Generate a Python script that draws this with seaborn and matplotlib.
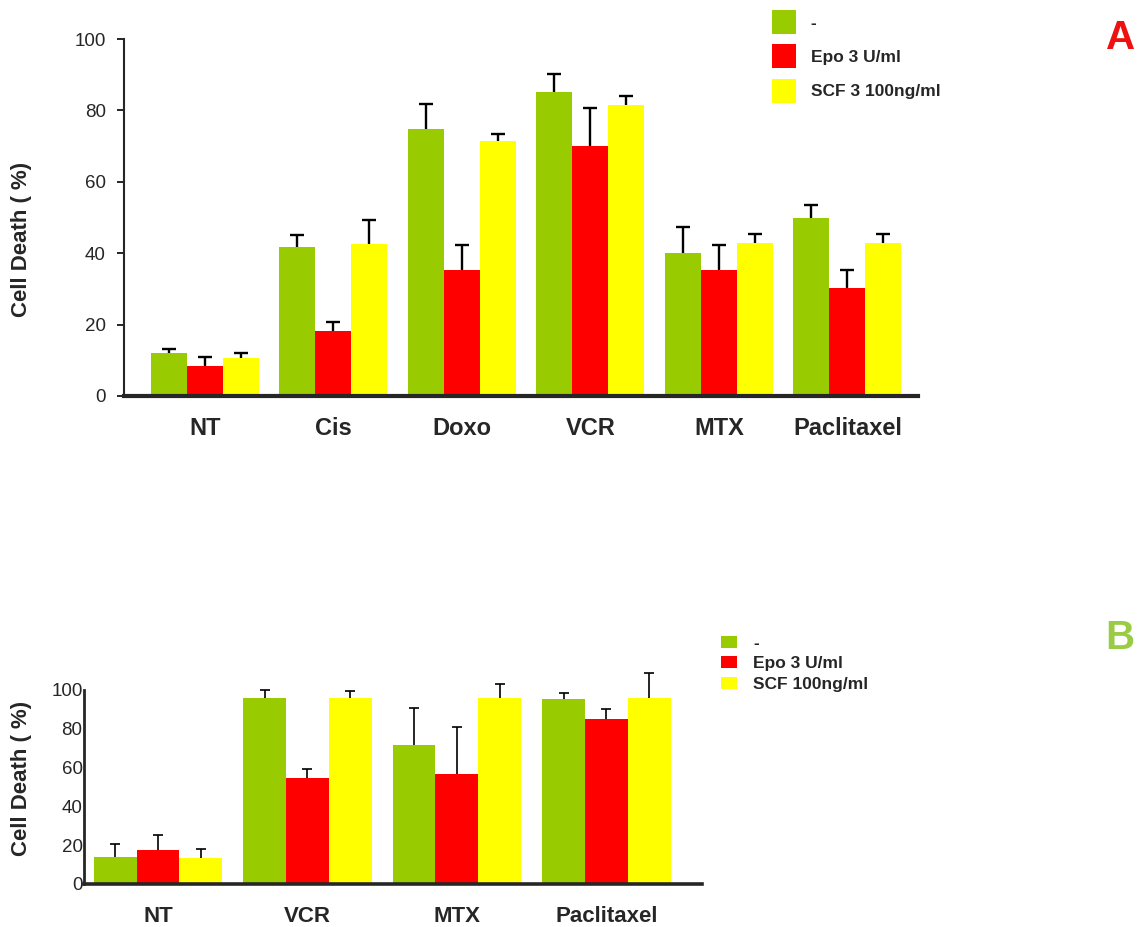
import numpy as np
import pandas as pd
import matplotlib
matplotlib.use("Agg")
import matplotlib.pyplot as plt
import seaborn as sns
from matplotlib.patches import Patch

# ---------------- data ----------------
drugs_a = ["NT", "Cis", "Doxo", "VCR", "MTX", "Paclitaxel"]
groups_a = ["-", "Epo 3 U/ml", "SCF 3 100ng/ml"]
a_ctrl = [12.0, 41.8, 74.8, 85.1, 40.0, 49.9]
a_epo = [8.4, 18.2, 35.3, 69.9, 35.3, 30.3]
a_scf = [10.6, 42.6, 71.4, 81.5, 42.8, 42.9]
a_ctrl_err = [1.2, 3.3, 7.0, 5.1, 7.3, 3.6]
a_epo_err = [2.6, 2.6, 7.0, 10.8, 7.0, 5.0]
a_scf_err = [1.4, 6.6, 2.0, 2.5, 2.6, 2.5]

drugs_b = ["NT", "VCR", "MTX", "Paclitaxel"]
groups_b = ["-", "Epo 3 U/ml", "SCF 100ng/ml"]
b_ctrl = [13.8, 95.7, 71.6, 95.2]
b_epo = [17.5, 54.5, 56.5, 84.9]
b_scf = [13.6, 95.7, 95.7, 95.7]
b_ctrl_err = [6.7, 4.1, 19.0, 3.4]
b_epo_err = [7.6, 4.8, 24.6, 5.1]
b_scf_err = [4.4, 3.6, 7.2, 12.9]

yticks = [0, 20, 40, 60, 80, 100]
colors = ["#99CC00", "#FF0000", "#FFFF00"]

# ---------------- style ----------------
sns.set_style("white")
plt.rcParams["font.family"] = ["Liberation Sans", "DejaVu Sans"]

W, H = 1141, 927
fig = plt.figure(figsize=(W / 100, H / 100), dpi=100)


def px_axes(left, right, top, bottom):
    return fig.add_axes([left / W, 1 - bottom / H, (right - left) / W, (bottom - top) / H])


def draw_panel(ax, drugs, groups, series, errs, width, elw, cap):
    rows = []
    for g, vals in zip(groups, series):
        for d, v in zip(drugs, vals):
            rows.append({"drug": d, "group": g, "value": v})
    df = pd.DataFrame(rows)
    sns.barplot(data=df, x="drug", y="value", hue="group", order=drugs,
                hue_order=groups, palette=colors, width=width, saturation=1,
                errorbar=None, legend=False, linewidth=0, gap=0, ax=ax)
    bars = sorted(ax.patches, key=lambda p: p.get_x())
    n = len(drugs)
    ng = len(groups)
    for j, (vals, err) in enumerate(zip(series, errs)):
        xs = [bars[i * ng + j].get_x() + bars[i * ng + j].get_width() / 2 for i in range(n)]
        eb = ax.errorbar(xs, vals, yerr=[np.zeros(n), err], fmt="none",
                         ecolor="black", elinewidth=elw, capsize=cap,
                         capthick=elw, clip_on=False, zorder=3)
        eb[1][0].set_visible(False)
        for c in eb[1]:
            c.set_clip_on(False)
        for c in eb[2]:
            c.set_clip_on(False)


# ---------------- panel A ----------------
axA = px_axes(124, 918, 39, 396)
draw_panel(axA, drugs_a, groups_a, [a_ctrl, a_epo, a_scf],
           [a_ctrl_err, a_epo_err, a_scf_err], 0.84, 1.7, 5)
axA.set_xlim(-0.63, 5.55)
axA.set_ylim(0, 100)
axA.set_yticks(yticks)
axA.set_xlabel("")
axA.set_ylabel("Cell Death ( %)", fontsize=16, fontweight="bold")
axA.yaxis.set_label_coords(22 / W, 1 - 239 / H, transform=fig.transFigure)
axA.yaxis.label.set_verticalalignment("center")
sns.despine(ax=axA)
axA.spines["left"].set_linewidth(1.5)
axA.spines["bottom"].set_linewidth(3)
axA.tick_params(axis="y", left=True, length=5, width=1.2, direction="out",
                labelsize=13.5, pad=8, color="black")
axA.tick_params(axis="x", length=0, labelsize=17, pad=15)
for t in axA.get_xticklabels():
    t.set_fontweight("bold")

handles_a = [Patch(facecolor=c, edgecolor="none") for c in colors]
fig.legend(handles_a, groups_a, loc="upper left", bbox_to_anchor=(772 / W, 1 - 10 / H),
           frameon=False, borderpad=0, borderaxespad=0,
           prop={"weight": "bold", "size": 12.5}, handlelength=1.38,
           handleheight=1.75, labelspacing=0.6, handletextpad=0.85)

fig.text(1121 / W, 1 - 38 / H, "A", color="#EE1111", fontsize=29,
         fontweight="bold", ha="center", va="center")

# ---------------- panel B ----------------
axB = px_axes(84, 702, 690, 884)
draw_panel(axB, drugs_b, groups_b, [b_ctrl, b_epo, b_scf],
           [b_ctrl_err, b_epo_err, b_scf_err], 0.86, 1.2, 3.6)
axB.set_xlim(-0.495, 3.64)
axB.set_ylim(0, 100)
axB.set_yticks(yticks)
axB.set_xlabel("")
axB.set_ylabel("Cell Death ( %)", fontsize=16, fontweight="bold")
axB.yaxis.set_label_coords(22 / W, 1 - 778 / H, transform=fig.transFigure)
axB.yaxis.label.set_verticalalignment("center")
sns.despine(ax=axB)
axB.spines["left"].set_linewidth(2)
axB.spines["bottom"].set_linewidth(2.6)
axB.tick_params(axis="y", length=0, labelsize=13.5, pad=1)
axB.tick_params(axis="x", length=0, labelsize=16, pad=16)
for t in axB.get_xticklabels():
    t.set_fontweight("bold")

handles_b = [Patch(facecolor=c, edgecolor="none") for c in colors]
fig.legend(handles_b, groups_b, loc="upper left", bbox_to_anchor=(721 / W, 1 - 636 / H),
           frameon=False, borderpad=0, borderaxespad=0,
           prop={"weight": "bold", "size": 12.5}, handlelength=0.92,
           handleheight=0.69, labelspacing=0.3, handletextpad=0.92)

fig.text(1120 / W, 1 - 638 / H, "B", color="#99CC44", fontsize=29,
         fontweight="bold", ha="center", va="center")

fig.savefig("out.png", dpi=100, facecolor="white")
